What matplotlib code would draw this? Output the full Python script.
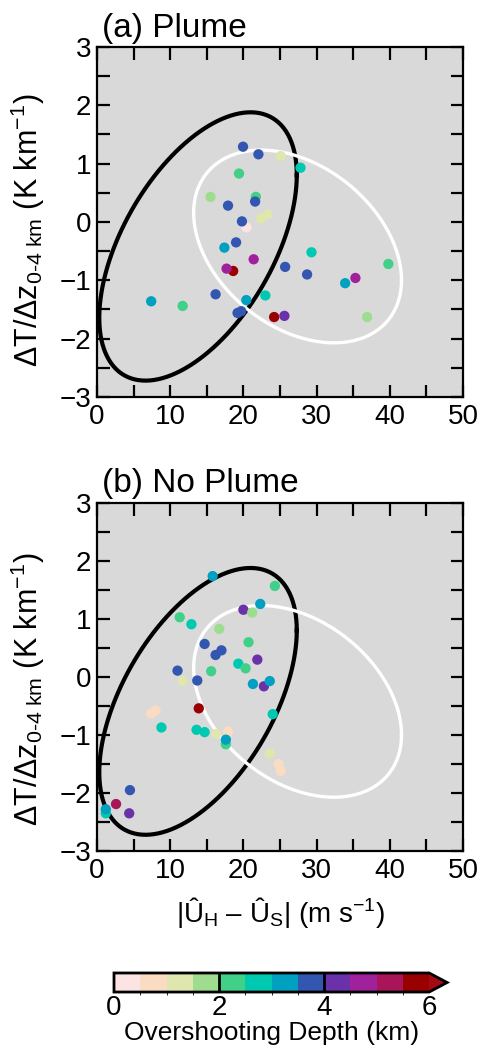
import numpy as np
import matplotlib
matplotlib.use("Agg")
import matplotlib.pyplot as plt
from matplotlib.colors import ListedColormap, BoundaryNorm

plt.rcParams.update({
    "font.family": ["Liberation Sans", "DejaVu Sans"],
    "mathtext.fontset": "custom",
    "mathtext.rm": "Liberation Sans",
    "mathtext.it": "Liberation Sans:italic",
    "font.size": 20,
})

# (a) Plume: shear magnitude (m/s), lapse-rate anomaly (K/km), overshooting depth (km)
plume_shear = [19.95, 22.05, 25.1, 27.8, 19.4, 15.5, 21.7, 21.6, 17.9, 23.3,
               22.4, 20.4, 19.8, 19.0, 17.4, 29.3, 21.4, 18.6, 17.7, 25.7,
               28.7, 39.8, 35.3, 33.9, 7.4, 11.7, 16.2, 20.4, 23.0, 19.7,
               19.2, 24.2, 25.6, 36.9]
plume_dtdz = [1.29, 1.16, 1.13, 0.93, 0.83, 0.43, 0.43, 0.35, 0.28, 0.13,
              0.06, -0.09, 0.01, -0.35, -0.44, -0.52, -0.64, -0.84, -0.80, -0.77,
              -0.90, -0.72, -0.96, -1.05, -1.36, -1.44, -1.24, -1.34, -1.26, -1.53,
              -1.56, -1.63, -1.61, -1.63]
plume_depth = [3.7, 3.8, 1.2, 2.8, 2.2, 1.7, 2.3, 3.6, 3.9, 1.3,
               1.1, 0.2, 3.7, 3.8, 3.2, 2.7, 4.7, 5.8, 4.8, 3.6,
               3.9, 2.2, 4.8, 3.3, 3.2, 2.4, 3.7, 3.4, 2.8, 3.9,
               3.6, 5.9, 4.3, 1.8]

# (b) No Plume
noplume_shear = [15.8, 24.3, 22.3, 20.0, 21.2, 11.3, 12.9, 16.7, 14.7, 20.7,
                 17.0, 16.2, 19.3, 21.9, 20.3, 15.6, 11.0, 11.7, 13.7, 21.3,
                 22.8, 23.6, 8.0, 7.4, 13.9, 24.0, 8.8, 13.6, 14.7, 16.3,
                 17.9, 17.6, 17.6, 23.6, 24.8, 25.1, 4.5, 2.6, 4.4, 1.2,
                 1.2]
noplume_dtdz = [1.74, 1.57, 1.26, 1.16, 1.11, 1.03, 0.91, 0.83, 0.57, 0.60,
                0.46, 0.38, 0.23, 0.30, 0.15, 0.10, 0.11, -0.07, -0.06, -0.12,
                -0.16, -0.07, -0.58, -0.63, -0.54, -0.64, -0.87, -0.91, -0.95, -0.98,
                -0.94, -1.16, -1.08, -1.32, -1.50, -1.62, -1.95, -2.19, -2.35, -2.35,
                -2.28]
noplume_depth = [3.3, 2.2, 3.2, 4.3, 1.8, 2.4, 2.7, 1.6, 3.7, 2.3,
                 3.8, 3.6, 2.8, 4.2, 2.1, 2.3, 3.7, 1.3, 3.9, 3.3,
                 4.4, 3.1, 0.7, 0.8, 5.8, 2.7, 2.6, 2.9, 2.7, 1.2,
                 0.6, 2.2, 3.4, 1.4, 0.7, 0.8, 3.7, 5.2, 4.4, 2.6,
                 3.3]

# ellipses: centre (shear, dT/dz) and covariance [sxx, syy, sxy]
ell_black_center = [13.8, -0.42]
ell_black_cov = [182.0, 5.29, 16.5]
ell_white_center = [27.4, -0.42]
ell_white_cov = [201.6, 2.73, -8.2]

depth_bounds = np.arange(0, 6.01, 0.5)
depth_colors = ["#fde4e4", "#f9dcc1", "#dfe6ae", "#9edd8f", "#41d088", "#00c9b1",
                "#00a0c0", "#3356b1", "#6a31a8", "#a0219b", "#a81558", "#990000"]

cmap = ListedColormap(depth_colors)
cmap.set_over("#a30a14")
norm = BoundaryNorm(depth_bounds, cmap.N)


def ellipse_xy(center, cov, n=400):
    sxx, syy, sxy = cov
    L = np.linalg.cholesky(np.array([[sxx, sxy], [sxy, syy]]))
    t = np.linspace(0, 2 * np.pi, n)
    pts = L @ np.vstack([np.cos(t), np.sin(t)])
    return center[0] + pts[0], center[1] + pts[1]


def panel(ax, shear, dtdz, depth, title, title_y, label_y):
    ax.set_facecolor("#d9d9d9")
    for c, cov, col, lw in [(ell_black_center, ell_black_cov, "black", 3.0),
                            (ell_white_center, ell_white_cov, "white", 2.4)]:
        ex, ey = ellipse_xy(c, cov)
        ax.plot(ex, ey, color=col, lw=lw, zorder=2)
    ax.scatter(shear, dtdz, c=depth, cmap=cmap, norm=norm, s=55,
               edgecolors="none", zorder=3)
    ax.set_xlim(0, 50)
    ax.set_ylim(-3, 3)
    ax.set_xticks(np.arange(0, 51, 10))
    ax.set_xticks(np.arange(0, 51, 5), minor=True)
    ax.set_yticks(np.arange(-3, 4, 1))
    ax.set_yticks(np.arange(-3, 3.1, 0.5), minor=True)
    ax.set_yticklabels(["\u22123", "\u22122", "\u22121", "0", "1", "2", "3"])
    ax.tick_params(which="both", direction="in", top=True, right=True,
                   length=9, width=1.6, labelsize=20)
    ax.tick_params(axis="x", pad=5)
    ax.tick_params(axis="y", pad=4)
    for sp in ax.spines.values():
        sp.set_linewidth(1.6)
    ax.text(0.015, title_y, title, transform=ax.transAxes, fontsize=24,
            va="baseline", ha="left")
    ax.set_ylabel(r"ΔT/Δz$_\mathregular{0\text{-}4\ km}$ (K km$^\mathregular{-1}$)",
                  fontsize=22)
    ax.yaxis.set_label_coords(-0.137, label_y)


fig = plt.figure(figsize=(4.8, 10.46), dpi=100)
ax1 = fig.add_axes([0.2021, 0.6205, 0.7625, 0.3346])
ax2 = fig.add_axes([0.2021, 0.1864, 0.7625, 0.3327])

panel(ax1, plume_shear, plume_dtdz, plume_depth, "(a) Plume", 1.029, 0.475)
panel(ax2, noplume_shear, noplume_dtdz, noplume_depth, "(b) No Plume", 1.032, 0.465)
ax2.set_xlabel(r"|Û$_\mathregular{H}$ – Û$_\mathregular{S}$| (m s$^\mathregular{-1}$)",
               fontsize=20, labelpad=8)

cax = fig.add_axes([0.2375, 0.0516, 0.694, 0.0182])
sm = plt.cm.ScalarMappable(cmap=cmap, norm=norm)
cb = fig.colorbar(sm, cax=cax, orientation="horizontal", extend="max",
                  ticks=[0, 2, 4, 6], extendfrac=0.057)
cb.outline.set_linewidth(2)
cb.ax.tick_params(length=0, labelsize=20, pad=2)
for v in [2, 4]:
    cax.axvline(v, color="black", lw=2)
fig.text(272 / 480, 6 / 1046, "Overshooting Depth (km)", fontsize=19,
         ha="center", va="baseline")

fig.savefig("out.png", dpi=100)
